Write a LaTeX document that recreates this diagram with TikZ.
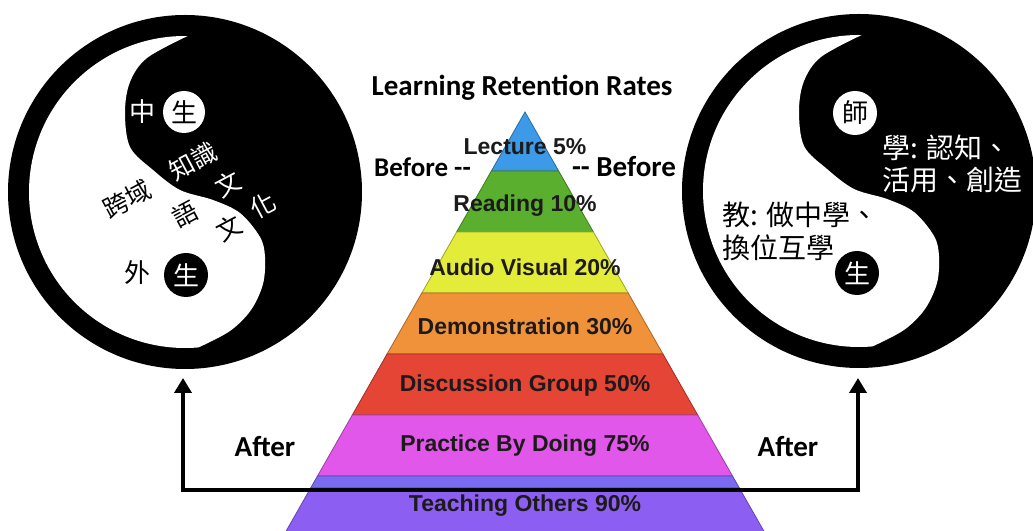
\documentclass[tikz,border=0pt]{standalone}
\usepackage{fontspec}
\setmainfont{Carlito}
\newfontfamily\cjk{Noto Sans CJK TC}
\newfontfamily\labelfont{Liberation Sans}
\usetikzlibrary{arrows.meta}
\definecolor{cBlue}{HTML}{3C9AE8}
\definecolor{cGreen}{HTML}{5AAF2E}
\definecolor{cYellow}{HTML}{E4EC3A}
\definecolor{cOrange}{HTML}{F0923A}
\definecolor{cRed}{HTML}{E54535}
\definecolor{cMagenta}{HTML}{E057EA}
\definecolor{cPurpleTop}{HTML}{7B6AF2}
\definecolor{cPurple}{HTML}{8C5EF2}
\definecolor{cLabel}{HTML}{1C1A1A}
\newcommand\pband[3]{\fill[#3, draw=#3!70!black, line width=0.8pt]
  ({525-0.57*(#1-112)},{530-#1}) -- ({525+0.57*(#1-112)},{530-#1}) --
  ({525+0.57*(#2-112)},{530-#2}) -- ({525-0.57*(#2-112)},{530-#2}) -- cycle;}
\tikzset{
  yinyang/.pic={
    \fill[black] (0,0) circle[radius=177];
    \fill[white] (89:156) arc[start angle=89, end angle=275, radius=156]
      -- plot[smooth, tension=0.55] coordinates {(13.6,-155.4) (45,-139) (66,-118) (78,-92) (80,-65) (75,-45) (55,-21) (28,-8) (-5,2) (-32,22) (-55,45) (-60,80) (-55,110) (-38,134) (2.7,156)} -- cycle;
  },
  wdot/.style={circle, fill=white, minimum size=42pt, inner sep=0pt, text=black, font=\cjk\fontsize{26}{26}\selectfont},
  bdot/.style={circle, fill=black, minimum size=44pt, inner sep=0pt, text=white, font=\cjk\fontsize{26}{26}\selectfont},
  cjkw/.style={text=white, inner sep=0pt, font=\cjk\fontsize{25}{25}\selectfont},
  cjkb/.style={text=black, inner sep=0pt, font=\cjk\fontsize{25}{25}\selectfont},
  rtw/.style={text=white, inner sep=0pt, anchor=west, font=\cjk\fontsize{28}{28}\selectfont},
  rtb/.style={text=black, inner sep=0pt, anchor=west, font=\cjk\fontsize{28}{28}\selectfont},
  plabel/.style={text=cLabel, inner sep=0pt, font=\labelfont\bfseries\fontsize{23}{23}\selectfont},
  ttl/.style={text=black, inner sep=0pt, font=\bfseries\fontsize{29}{29}\selectfont},
  conn/.style={line width=4pt, {Triangle[length=15pt,width=17pt]}-{Triangle[length=15pt,width=17pt]}}
}
\begin{document}
\begin{tikzpicture}[x=1pt,y=1pt]
\useasboundingbox (0,0) rectangle (1033,530);
\clip (0,0) rectangle (1033,530);
\fill[white] (0,0) rectangle (1033,530);
% yin-yangs
\pic at (185,338) {yinyang};
\pic at (859,339) {yinyang};
% left yin-yang texts
\node[cjkw, font=\cjk\fontsize{26}{26}\selectfont] (zhong) at (142,418) {中};
\node[wdot] (sheng1) at (184,418) {生};
\node[cjkb, font=\cjk\fontsize{26}{26}\selectfont] (wai) at (137,257) {外};
\node[bdot] (sheng2) at (186,255) {生};
\node[cjkb, rotate=28] (kuayu) at (127,331) {跨域};
\node[cjkw, rotate=28] (zhishi) at (193,369) {知識};
\node[cjkb, rotate=28] (yu) at (185,316) {語};
\node[cjkw, rotate=28] (wen1) at (228,346) {文};
\node[cjkb, rotate=28] (wen2) at (229,302) {文};
\node[cjkw, rotate=28] (hua) at (263,325) {化};
% right yin-yang texts
\node[wdot, minimum size=44pt] (shi) at (855,417) {師};
\node[bdot] (sheng3) at (857,257) {生};
\node[rtw] (xue1) at (882,382) {學: 認知、};
\node[rtw] (xue2) at (882,350) {活用、創造};
\node[rtb] (jiao1) at (722,315) {教: 做中學、};
\node[rtb] (jiao2) at (722,282) {換位互學};
% pyramid
\pband{112}{171}{cBlue}
\pband{171}{232}{cGreen}
\pband{232}{293}{cYellow}
\pband{293}{354}{cOrange}
\pband{354}{415}{cRed}
\pband{415}{476}{cMagenta}
\pband{476}{488}{cPurpleTop}
\pband{488}{540}{cPurple}
\node[plabel] (l1) at (525,383) {Lecture 5\%};
\node[plabel] (l2) at (525,324) {Reading 10\%};
\node[plabel] (l3) at (525,263) {Audio Visual 20\%};
\node[plabel] (l4) at (525,204) {Demonstration 30\%};
\node[plabel] (l5) at (525,144) {Discussion Group 50\%};
\node[plabel] (l6) at (525,84) {Practice By Doing 75\%};
\node[plabel] (l7) at (525,24) {Teaching Others 90\%};
% titles
\node[ttl] (title) at (522,442) {Learning Retention Rates};
\node[ttl, anchor=east, font=\bfseries\fontsize{27}{27}\selectfont] (bl) at (471,363) {Before -{}-};
\node[ttl] (br) at (624,363) {-{}- Before};
\node[ttl] (al) at (265,83) {After};
\node[ttl] (ar) at (788,83) {After};
% connector
\coordinate (ltip) at (183,152);
\coordinate (rtip) at (858,152);
\coordinate (base) at (0,40);
\draw[conn] (ltip) -- (ltip |- base) -- (rtip |- base) -- (rtip);
\end{tikzpicture}
\end{document}
